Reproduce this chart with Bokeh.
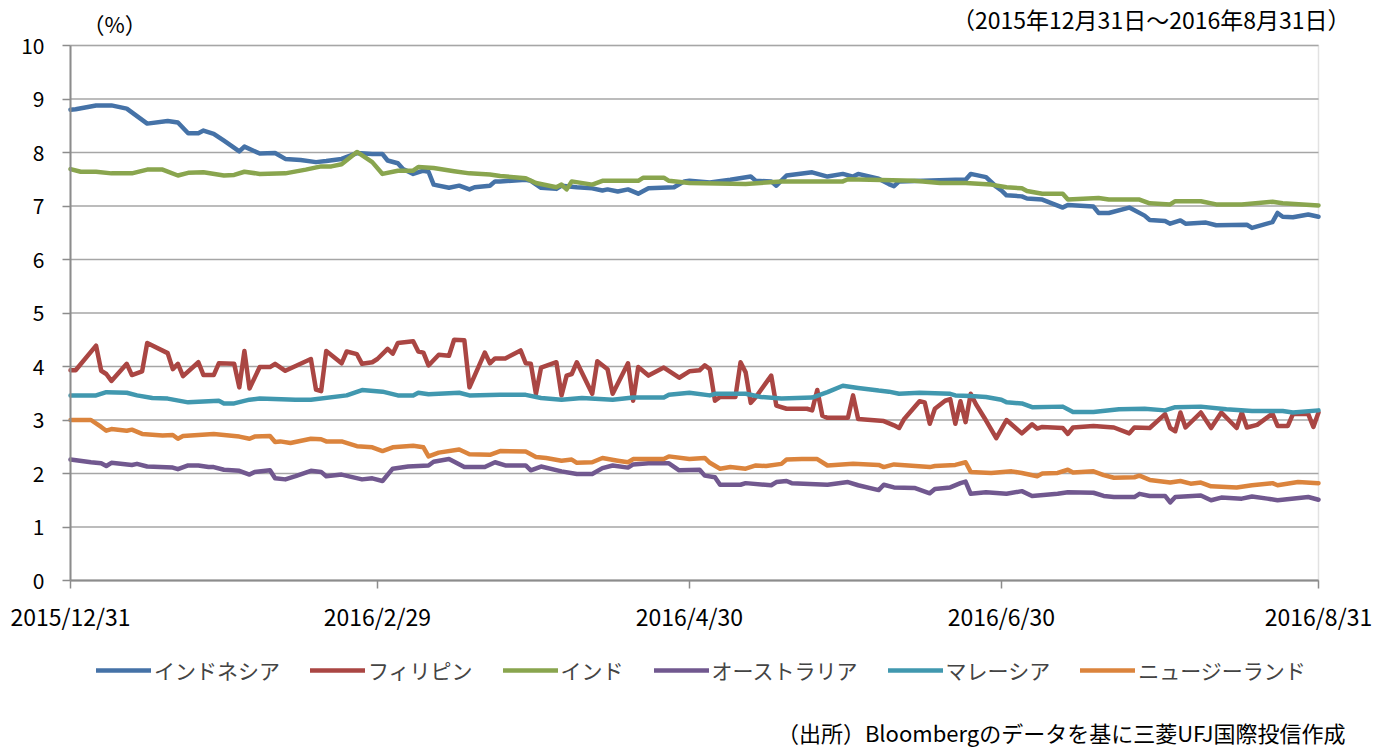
import numpy as np
from bokeh.plotting import figure
from bokeh.models import (Range1d, FixedTicker, Legend, LegendItem, Label,
                          BoxAnnotation, ColumnDataSource)
from bokeh.embed import file_html
from bokeh.resources import INLINE

# ---------------- data (days counted from 2015/12/31, yields in %) ----------------
start_date = np.datetime64("2015-12-31")

series_names = ["インドネシア", "フィリピン", "インド", "オーストラリア", "マレーシア", "ニュージーランド"]
series_colors = ["#4572A7", "#AA4643", "#89A54E", "#71588F", "#4198AF", "#DB843D"]

indonesia_days = [0, 1, 5, 8, 11, 15, 19, 21, 23, 25, 26, 28, 30, 33, 34, 37, 40, 42, 45, 48, 50, 53, 56, 59, 61,
                  62, 64, 65, 67, 69, 70, 71, 74, 76, 78, 79, 82, 83, 84, 89, 90, 92, 95, 96, 99, 102, 104, 105, 107,
                  109, 111, 113, 118, 120, 121, 125, 129, 133, 134, 137, 138, 140, 145, 148, 151, 153, 154, 158, 160,
                  161, 162, 173, 175, 176, 179, 181, 182, 183, 186, 187, 190, 194, 195, 200, 201, 203, 207, 210, 211,
                  214, 215, 217, 218, 222, 224, 230, 231, 235, 236, 237, 239, 242, 244]
indonesia = [8.80, 8.81, 8.88, 8.88, 8.82, 8.54, 8.59, 8.56, 8.36, 8.36, 8.41, 8.35, 8.22, 8.02, 8.11, 7.98, 7.99,
             7.88, 7.86, 7.82, 7.84, 7.88, 7.99, 7.97, 7.97, 7.85, 7.80, 7.69, 7.60, 7.66, 7.64, 7.40, 7.34, 7.38,
             7.31, 7.35, 7.38, 7.46, 7.46, 7.49, 7.47, 7.34, 7.32, 7.38, 7.35, 7.33, 7.29, 7.31, 7.27, 7.31, 7.23,
             7.33, 7.35, 7.46, 7.47, 7.44, 7.49, 7.55, 7.47, 7.46, 7.38, 7.57, 7.63, 7.55, 7.60, 7.55, 7.60, 7.51,
             7.41, 7.37, 7.46, 7.49, 7.49, 7.60, 7.54, 7.36, 7.29, 7.20, 7.18, 7.14, 7.12, 6.97, 7.02, 6.99, 6.87,
             6.87, 6.97, 6.82, 6.74, 6.72, 6.67, 6.73, 6.67, 6.69, 6.64, 6.65, 6.59, 6.70, 6.87, 6.80, 6.79, 6.84,
             6.80]

philippines_days = [0, 1, 5, 6, 7, 8, 11, 12, 14, 15, 19, 20, 21, 22, 25, 26, 28, 29, 32, 33, 34, 35, 37, 39, 40,
                    42, 47, 48, 49, 50, 53, 54, 56, 57, 59, 60, 62, 63, 64, 67, 68, 69, 70, 72, 74, 75, 77, 78, 81,
                    82, 83, 85, 88, 89, 90, 91, 92, 95, 96, 97, 98, 99, 102, 103, 105, 106, 109, 110, 111, 113, 116,
                    119, 121, 123, 124, 125, 126, 127, 130, 131, 132, 133, 134, 137, 138, 140, 144, 145, 146, 147,
                    148, 152, 153, 154, 159, 161, 162, 163, 166, 167, 168, 169, 171, 172, 173, 174, 175, 176, 177,
                    179, 181, 183, 186, 188, 189, 190, 194, 195, 196, 200, 204, 207, 208, 211, 214, 215, 216, 217,
                    218, 221, 223, 225, 228, 229, 230, 232, 235, 236, 238, 239, 242, 243, 244]
philippines = [3.93, 3.93, 4.39, 3.92, 3.86, 3.73, 4.05, 3.84, 3.91, 4.44, 4.25, 3.95, 4.05, 3.82, 4.08, 3.84, 3.84,
               4.06, 4.05, 3.61, 4.29, 3.59, 3.99, 3.99, 4.05, 3.92, 4.14, 3.57, 3.54, 4.29, 4.06, 4.28, 4.23, 4.05,
               4.08, 4.14, 4.33, 4.24, 4.44, 4.47, 4.28, 4.26, 4.02, 4.22, 4.20, 4.50, 4.49, 3.61, 4.26, 4.06, 4.15,
               4.15, 4.30, 4.06, 4.05, 3.49, 3.98, 4.08, 3.46, 3.83, 3.86, 4.08, 3.49, 4.10, 3.95, 3.49, 4.06, 3.36,
               3.99, 3.83, 3.98, 3.79, 3.91, 3.93, 4.02, 3.95, 3.36, 3.43, 3.43, 4.08, 3.89, 3.32, 3.43, 3.83, 3.27,
               3.21, 3.21, 3.18, 3.56, 3.08, 3.04, 3.04, 3.46, 3.02, 2.98, 2.90, 2.85, 3.02, 3.35, 3.33, 2.93, 3.21,
               3.36, 3.39, 2.93, 3.35, 2.96, 3.49, 3.30, 2.99, 2.66, 3.00, 2.75, 2.92, 2.84, 2.87, 2.85, 2.74, 2.86,
               2.89, 2.86, 2.75, 2.86, 2.85, 3.11, 2.85, 2.79, 3.14, 2.86, 3.14, 2.85, 3.14, 2.85, 3.14, 2.86, 2.91,
               3.12, 2.89, 2.89, 3.11, 3.11, 2.87, 3.14]

india_days = [0, 2, 5, 8, 12, 15, 18, 21, 23, 26, 30, 32, 34, 37, 42, 46, 49, 51, 53, 56, 59, 61, 64, 67, 68, 71,
              75, 78, 82, 84, 89, 91, 95, 96, 97, 98, 102, 104, 111, 112, 116, 117, 121, 132, 139, 151, 152, 165,
              170, 175, 180, 183, 186, 187, 190, 194, 195, 199, 201, 203, 209, 211, 215, 216, 221, 224, 229, 235,
              237, 244]
india = [7.69, 7.64, 7.64, 7.61, 7.61, 7.68, 7.68, 7.57, 7.62, 7.63, 7.57, 7.58, 7.64, 7.60, 7.61, 7.68, 7.74, 7.74,
         7.78, 8.01, 7.82, 7.60, 7.66, 7.66, 7.73, 7.71, 7.65, 7.61, 7.59, 7.56, 7.52, 7.43, 7.35, 7.40, 7.31, 7.46,
         7.40, 7.47, 7.47, 7.53, 7.53, 7.47, 7.43, 7.41, 7.46, 7.46, 7.50, 7.47, 7.43, 7.43, 7.40, 7.35, 7.33, 7.28,
         7.23, 7.23, 7.12, 7.14, 7.15, 7.12, 7.12, 7.05, 7.03, 7.09, 7.09, 7.03, 7.03, 7.08, 7.05, 7.01]

australia_days = [0, 4, 6, 7, 8, 12, 13, 15, 20, 21, 23, 25, 27, 28, 30, 33, 35, 36, 39, 40, 42, 44, 47, 49, 50,
                  53, 57, 59, 61, 63, 66, 70, 71, 74, 77, 81, 83, 85, 89, 90, 92, 96, 99, 102, 104, 106, 109, 110,
                  113, 117, 119, 123, 124, 126, 127, 131, 132, 137, 138, 140, 141, 148, 152, 154, 158, 159, 161,
                  165, 168, 169, 172, 174, 175, 176, 179, 183, 186, 188, 193, 195, 200, 202, 204, 208, 209, 211,
                  214, 215, 216, 221, 223, 225, 229, 231, 234, 236, 242, 244]
australia = [2.26, 2.21, 2.19, 2.14, 2.20, 2.16, 2.18, 2.13, 2.11, 2.08, 2.15, 2.15, 2.12, 2.12, 2.07, 2.05, 1.98,
             2.03, 2.06, 1.91, 1.89, 1.95, 2.05, 2.03, 1.95, 1.98, 1.89, 1.91, 1.86, 2.09, 2.13, 2.15, 2.22, 2.27,
             2.12, 2.12, 2.21, 2.15, 2.15, 2.06, 2.13, 2.04, 1.99, 1.99, 2.10, 2.15, 2.11, 2.17, 2.19, 2.19, 2.06,
             2.07, 1.96, 1.93, 1.79, 1.79, 1.82, 1.78, 1.84, 1.86, 1.82, 1.79, 1.84, 1.78, 1.69, 1.79, 1.74, 1.73,
             1.63, 1.71, 1.74, 1.82, 1.85, 1.62, 1.65, 1.62, 1.67, 1.58, 1.62, 1.65, 1.64, 1.58, 1.56, 1.56, 1.62,
             1.58, 1.58, 1.46, 1.56, 1.59, 1.50, 1.55, 1.53, 1.57, 1.53, 1.50, 1.56, 1.51]

malaysia_days = [0, 5, 7, 11, 13, 16, 19, 23, 27, 29, 30, 32, 35, 37, 44, 47, 54, 57, 61, 64, 67, 68, 70, 76, 78,
                 84, 89, 92, 96, 100, 106, 110, 116, 117, 121, 125, 126, 132, 135, 139, 145, 148, 151, 154, 158,
                 160, 162, 166, 172, 173, 176, 179, 182, 183, 186, 188, 194, 196, 200, 205, 210, 214, 216, 221,
                 226, 231, 237, 239, 244]
malaysia = [3.46, 3.46, 3.52, 3.51, 3.46, 3.41, 3.40, 3.33, 3.35, 3.36, 3.31, 3.31, 3.38, 3.40, 3.38, 3.38, 3.46,
            3.56, 3.53, 3.46, 3.46, 3.51, 3.48, 3.51, 3.46, 3.47, 3.47, 3.41, 3.38, 3.41, 3.38, 3.42, 3.42, 3.47,
            3.51, 3.46, 3.49, 3.49, 3.43, 3.40, 3.42, 3.52, 3.64, 3.60, 3.55, 3.53, 3.49, 3.51, 3.49, 3.46, 3.45,
            3.43, 3.38, 3.33, 3.31, 3.24, 3.25, 3.15, 3.15, 3.20, 3.21, 3.18, 3.24, 3.25, 3.20, 3.17, 3.17, 3.14,
            3.18]

newzealand_days = [0, 4, 6, 7, 8, 11, 12, 14, 18, 20, 21, 22, 28, 33, 35, 36, 39, 40, 41, 43, 47, 49, 50, 53, 56,
                   59, 61, 63, 67, 69, 70, 72, 76, 78, 82, 84, 89, 91, 93, 96, 98, 99, 102, 104, 107, 109, 110,
                   116, 117, 121, 124, 125, 127, 129, 132, 134, 136, 139, 140, 143, 146, 148, 153, 158, 159, 161,
                   168, 169, 173, 175, 176, 180, 184, 186, 189, 190, 193, 195, 196, 200, 202, 204, 208, 209, 211,
                   215, 217, 219, 221, 223, 228, 231, 235, 236, 240, 244]
newzealand = [3.00, 3.00, 2.87, 2.80, 2.83, 2.80, 2.82, 2.74, 2.71, 2.72, 2.65, 2.70, 2.74, 2.69, 2.65, 2.69, 2.70,
              2.59, 2.60, 2.57, 2.65, 2.64, 2.60, 2.60, 2.51, 2.49, 2.42, 2.49, 2.52, 2.49, 2.32, 2.39, 2.45, 2.36,
              2.35, 2.42, 2.41, 2.31, 2.29, 2.24, 2.26, 2.20, 2.21, 2.29, 2.24, 2.21, 2.27, 2.27, 2.32, 2.27, 2.29,
              2.20, 2.09, 2.12, 2.09, 2.15, 2.14, 2.18, 2.26, 2.27, 2.27, 2.15, 2.18, 2.16, 2.12, 2.17, 2.12, 2.14,
              2.16, 2.21, 2.03, 2.01, 2.04, 2.01, 1.95, 2.00, 2.01, 2.07, 2.02, 2.04, 1.97, 1.92, 1.93, 1.96, 1.88,
              1.83, 1.86, 1.81, 1.83, 1.76, 1.74, 1.78, 1.82, 1.78, 1.84, 1.82]

tick_dates = ["2015-12-31", "2016-02-29", "2016-04-30", "2016-06-30", "2016-08-31"]
tick_labels = ["2015/12/31", "2016/2/29", "2016/4/30", "2016/6/30", "2016/8/31"]
y_ticks = [0, 1, 2, 3, 4, 5, 6, 7, 8, 9, 10]

title_unit = "（%）"
title_period = "（2015年12月31日～2016年8月31日）"
source_note = "（出所）Bloombergのデータを基に三菱UFJ国際投信作成"

# ---------------- figure ----------------
JP = "Noto Sans CJK JP"
X_END = 244
PX_PER_DAY = 1248 / X_END           # plot area 1248 px wide
PX_PER_UNIT = 53.5                  # 10 % spans 535 px
CANVAS_W, CANVAS_H = 1385, 748
PLOT_LEFT, PLOT_TOP, PLOT_BOTTOM = 70, 45, 580   # plot area edges in page pixels

x_lo = -PLOT_LEFT / PX_PER_DAY
x_hi = X_END + (CANVAS_W - PLOT_LEFT - 1248) / PX_PER_DAY
y_hi = 10 + PLOT_TOP / PX_PER_UNIT
y_lo = -(CANVAS_H - PLOT_BOTTOM) / PX_PER_UNIT

def px_to_x(px):
    return (px - PLOT_LEFT) / PX_PER_DAY

def px_to_y(py):
    return (PLOT_BOTTOM - py) / PX_PER_UNIT

p = figure(frame_width=CANVAS_W, frame_height=CANVAS_H, output_backend="svg", toolbar_location=None,
           x_range=Range1d(x_lo, x_hi), y_range=Range1d(y_lo, y_hi),
           min_border_left=0, min_border_right=0, min_border_top=0, min_border_bottom=0)
p.title.visible = False
p.background_fill_color = "white"
p.border_fill_color = "white"
p.outline_line_color = None
p.xgrid.visible = False
p.ygrid.visible = False

# horizontal gridlines over the plot area only, at the y tick values
p.segment(x0=[0] * len(y_ticks), x1=[X_END] * len(y_ticks), y0=y_ticks, y1=y_ticks,
          line_color="#a6a6a6", line_width=1.6)

# plot-area border (0..10 %)
p.add_layout(BoxAnnotation(left=0, right=X_END, bottom=0, top=10, fill_alpha=0,
                           line_color="#a0a0a0", line_width=1.5, level="underlay"))

def to_days(s):
    return int((np.datetime64(s) - start_date).astype(int))

tick_days = [to_days(s) for s in tick_dates]

xa = p.xaxis[0]
xa.fixed_location = 0
xa.bounds = (0, X_END)
xa.ticker = FixedTicker(ticks=tick_days)
xa.major_label_overrides = {d: lab for d, lab in zip(tick_days, tick_labels)}
xa.minor_tick_line_color = None
xa.major_tick_in = 0
xa.major_tick_out = 8
xa.major_tick_line_color = "#8c8c8c"
xa.major_tick_line_width = 1.5
xa.axis_line_color = "#8c8c8c"
xa.axis_line_width = 2
xa.major_label_standoff = 10
xa.major_label_text_font = JP
xa.major_label_text_font_size = "23px"
xa.major_label_text_color = "#000000"

ya = p.yaxis[0]
ya.fixed_location = 0
ya.bounds = (0, 10)
ya.ticker = FixedTicker(ticks=y_ticks)
ya.minor_tick_line_color = None
ya.major_tick_in = 0
ya.major_tick_out = 8
ya.major_tick_line_color = "#8c8c8c"
ya.major_tick_line_width = 1.5
ya.axis_line_color = "#8c8c8c"
ya.axis_line_width = 2
ya.major_label_standoff = 18
ya.major_label_text_font = JP
ya.major_label_text_font_size = "21px"
ya.major_label_text_color = "#000000"

all_days = [indonesia_days, philippines_days, india_days, australia_days, malaysia_days, newzealand_days]
all_vals = [indonesia, philippines, india, australia, malaysia, newzealand]

items = []
for name, color, days, vals in zip(series_names, series_colors, all_days, all_vals):
    src = ColumnDataSource(dict(x=days, y=vals))
    r = p.line("x", "y", source=src, line_color=color, line_width=4.5,
               line_join="round", line_cap="round")
    items.append(LegendItem(label=name, renderers=[r]))

# header texts above the 10 % line
p.add_layout(Label(x=px_to_x(82), y=px_to_y(22), text=title_unit, text_font=JP, text_font_size="22px",
                   text_baseline="middle", text_align="left", text_color="#000000"))
p.add_layout(Label(x=px_to_x(1350), y=px_to_y(18), text=title_period, text_font=JP, text_font_size="23px",
                   text_baseline="middle", text_align="right", text_color="#000000"))

# source note at the bottom right
p.add_layout(Label(x=px_to_x(1345), y=px_to_y(731), text=source_note, text_font=JP, text_font_size="22px",
                   text_baseline="middle", text_align="right", text_color="#000000"))

legend = Legend(items=items, orientation="horizontal", location=(96, CANVAS_H - 668 - 17),
                label_text_font=JP, label_text_font_size="21px",
                glyph_width=55, glyph_height=20, label_standoff=3, spacing=30,
                border_line_color=None, background_fill_alpha=0,
                margin=0, padding=4)
p.add_layout(legend, "center")

open("out.html", "w").write(file_html(p, INLINE))
